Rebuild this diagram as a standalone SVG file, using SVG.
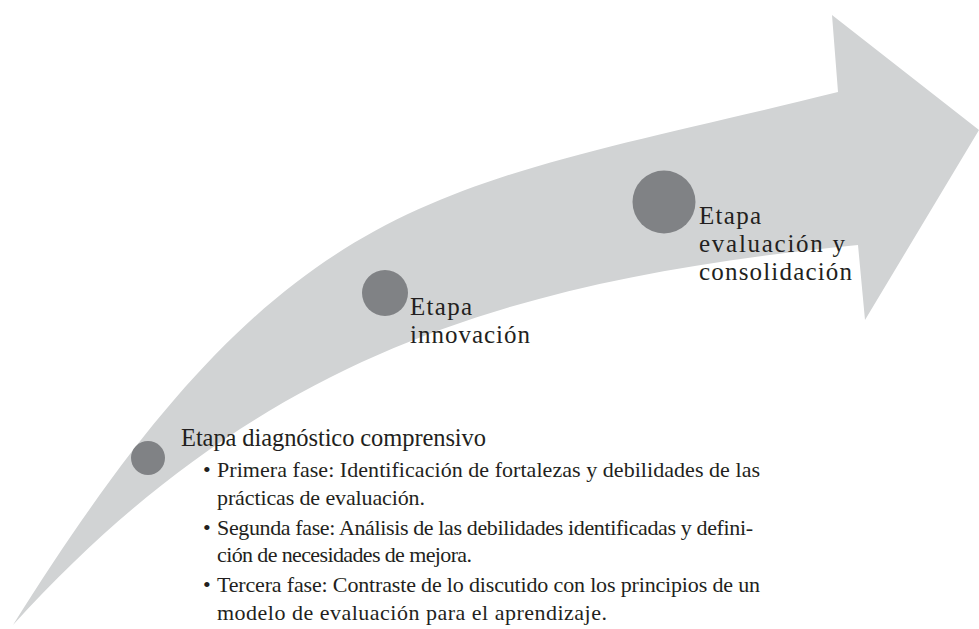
<svg xmlns="http://www.w3.org/2000/svg" width="979" height="629" viewBox="0 0 979 629">
<style>
.arrow{fill:#d1d3d4}
.dot{fill:#808285}
text{font-family:"Liberation Serif","Times New Roman",serif;fill:#231f20}
.lbl{font-size:25px}
.head{font-size:24.5px}
.item{font-size:22px}
</style>
<rect width="979" height="629" fill="#ffffff"/>
<g id="arrow">
<path class="arrow" d="M13,625 C293,177 438,192 838,92 L832,15 L979,130 L865,320 L858,245 C500,280 253,361 13,625 Z"/>
</g>
<g id="etapa-diagnostico">
<circle class="dot" cx="148" cy="458" r="17"/>
<text class="head" x="181" y="446" textLength="305" lengthAdjust="spacing">Etapa diagnóstico comprensivo</text>
<text class="item" x="203" y="477">•</text>
<text class="item" x="217" y="477" textLength="543" lengthAdjust="spacing">Primera fase: Identificación de fortalezas y debilidades de las</text>
<text class="item" x="217" y="505" textLength="208" lengthAdjust="spacing">prácticas de evaluación.</text>
<text class="item" x="203" y="535">•</text>
<text class="item" x="217" y="535" textLength="536" lengthAdjust="spacing">Segunda fase: Análisis de las debilidades identificadas y defini-</text>
<text class="item" x="217" y="562" textLength="255" lengthAdjust="spacing">ción de necesidades de mejora.</text>
<text class="item" x="203" y="592">•</text>
<text class="item" x="217" y="592" textLength="543" lengthAdjust="spacing">Tercera fase: Contraste de lo discutido con los principios de un</text>
<text class="item" x="217" y="620" textLength="390" lengthAdjust="spacing">modelo de evaluación para el aprendizaje.</text>
</g>
<g id="etapa-innovacion">
<circle class="dot" cx="385" cy="293" r="23"/>
<text class="lbl" x="410" y="315" textLength="62" lengthAdjust="spacing">Etapa</text>
<text class="lbl" x="410" y="343" textLength="120" lengthAdjust="spacing">innovación</text>
</g>
<g id="etapa-evaluacion">
<circle class="dot" cx="664" cy="202" r="31.5"/>
<text class="lbl" x="699" y="224" textLength="62" lengthAdjust="spacing">Etapa</text>
<text class="lbl" x="699" y="252" textLength="146" lengthAdjust="spacing">evaluación y</text>
<text class="lbl" x="699" y="280" textLength="153" lengthAdjust="spacing">consolidación</text>
</g>
</svg>
